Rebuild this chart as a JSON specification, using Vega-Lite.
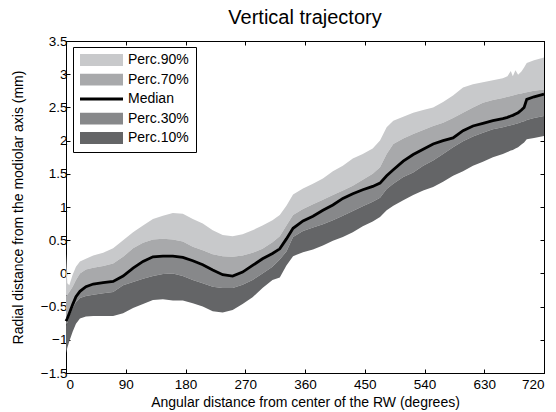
{
  "$schema": "https://vega.github.io/schema/vega-lite/v6.json",
  "width": 478,
  "height": 332,
  "autosize": {"type": "none"},
  "padding": {"left": 66, "top": 41, "right": 12, "bottom": 39},
  "background": "white",
  "config": {
    "view": {"stroke": "black", "strokeWidth": 1},
    "font": "Liberation Sans",
    "axis": {
      "domainColor": "black",
      "tickColor": "black",
      "labelColor": "black",
      "titleColor": "black",
      "labelFont": "Liberation Sans",
      "titleFont": "Liberation Sans",
      "labelFontSize": 13.5,
      "titleFontSize": 14,
      "titleFontWeight": "normal",
      "grid": false,
      "tickSize": -4,
      "domainWidth": 1,
      "tickWidth": 1
    }
  },
  "title": {
    "text": "Vertical trajectory",
    "font": "Liberation Sans",
    "fontSize": 20,
    "fontWeight": "normal",
    "color": "black",
    "anchor": "middle",
    "baseline": "alphabetic",
    "offset": 14,
    "dy": 24
  },
  "data": {
    "values": [
      {"a": 0, "p90": 0.30, "p70": -0.34, "med": -0.72, "p30": -0.79, "p10": -1.20},
      {"a": 2, "p90": -0.15, "p70": -0.32, "med": -0.68, "p30": -0.74, "p10": -1.12},
      {"a": 5, "p90": -0.18, "p70": -0.28, "med": -0.60, "p30": -0.64, "p10": -1.02},
      {"a": 10, "p90": -0.02, "p70": -0.20, "med": -0.47, "p30": -0.52, "p10": -0.88},
      {"a": 15, "p90": 0.10, "p70": -0.10, "med": -0.35, "p30": -0.43, "p10": -0.76},
      {"a": 21, "p90": 0.18, "p70": 0.00, "med": -0.27, "p30": -0.37, "p10": -0.68},
      {"a": 30, "p90": 0.22, "p70": 0.06, "med": -0.20, "p30": -0.34, "p10": -0.65},
      {"a": 41, "p90": 0.27, "p70": 0.085, "med": -0.16, "p30": -0.32, "p10": -0.64},
      {"a": 56, "p90": 0.31, "p70": 0.11, "med": -0.14, "p30": -0.30, "p10": -0.64},
      {"a": 71, "p90": 0.38, "p70": 0.15, "med": -0.12, "p30": -0.28, "p10": -0.64},
      {"a": 86, "p90": 0.50, "p70": 0.25, "med": -0.04, "p30": -0.18, "p10": -0.60},
      {"a": 101, "p90": 0.62, "p70": 0.38, "med": 0.08, "p30": -0.13, "p10": -0.52},
      {"a": 116, "p90": 0.72, "p70": 0.46, "med": 0.18, "p30": -0.08, "p10": -0.46},
      {"a": 131, "p90": 0.82, "p70": 0.51, "med": 0.25, "p30": -0.04, "p10": -0.40},
      {"a": 146, "p90": 0.87, "p70": 0.52, "med": 0.26, "p30": -0.01, "p10": -0.39},
      {"a": 161, "p90": 0.91, "p70": 0.51, "med": 0.26, "p30": 0.00, "p10": -0.41},
      {"a": 176, "p90": 0.90, "p70": 0.48, "med": 0.24, "p30": -0.04, "p10": -0.41},
      {"a": 191, "p90": 0.82, "p70": 0.40, "med": 0.19, "p30": -0.10, "p10": -0.45},
      {"a": 206, "p90": 0.75, "p70": 0.35, "med": 0.13, "p30": -0.15, "p10": -0.50},
      {"a": 221, "p90": 0.65, "p70": 0.29, "med": 0.05, "p30": -0.20, "p10": -0.57},
      {"a": 236, "p90": 0.58, "p70": 0.26, "med": -0.02, "p30": -0.22, "p10": -0.59},
      {"a": 251, "p90": 0.56, "p70": 0.25, "med": -0.04, "p30": -0.22, "p10": -0.55},
      {"a": 266, "p90": 0.59, "p70": 0.27, "med": 0.02, "p30": -0.17, "p10": -0.46},
      {"a": 281, "p90": 0.65, "p70": 0.31, "med": 0.12, "p30": -0.10, "p10": -0.36},
      {"a": 296, "p90": 0.72, "p70": 0.37, "med": 0.22, "p30": 0.00, "p10": -0.22},
      {"a": 311, "p90": 0.80, "p70": 0.47, "med": 0.30, "p30": 0.10, "p10": -0.10},
      {"a": 322, "p90": 0.88, "p70": 0.56, "med": 0.37, "p30": 0.21, "p10": -0.06},
      {"a": 332, "p90": 1.02, "p70": 0.72, "med": 0.52, "p30": 0.33, "p10": 0.12},
      {"a": 342, "p90": 1.19, "p70": 0.88, "med": 0.68, "p30": 0.55, "p10": 0.26},
      {"a": 357, "p90": 1.28, "p70": 0.97, "med": 0.79, "p30": 0.64, "p10": 0.32},
      {"a": 372, "p90": 1.35, "p70": 1.04, "med": 0.86, "p30": 0.69, "p10": 0.36},
      {"a": 387, "p90": 1.43, "p70": 1.11, "med": 0.95, "p30": 0.74, "p10": 0.42},
      {"a": 402, "p90": 1.54, "p70": 1.18, "med": 1.03, "p30": 0.80, "p10": 0.49},
      {"a": 417, "p90": 1.62, "p70": 1.25, "med": 1.13, "p30": 0.87, "p10": 0.55},
      {"a": 432, "p90": 1.73, "p70": 1.32, "med": 1.20, "p30": 0.94, "p10": 0.62},
      {"a": 447, "p90": 1.80, "p70": 1.41, "med": 1.26, "p30": 1.01, "p10": 0.71},
      {"a": 462, "p90": 1.88, "p70": 1.50, "med": 1.31, "p30": 1.08, "p10": 0.78},
      {"a": 473, "p90": 2.00, "p70": 1.60, "med": 1.36, "p30": 1.14, "p10": 0.85},
      {"a": 483, "p90": 2.20, "p70": 1.80, "med": 1.47, "p30": 1.27, "p10": 0.95},
      {"a": 493, "p90": 2.30, "p70": 1.95, "med": 1.56, "p30": 1.35, "p10": 1.02},
      {"a": 508, "p90": 2.36, "p70": 2.03, "med": 1.69, "p30": 1.45, "p10": 1.10},
      {"a": 523, "p90": 2.42, "p70": 2.10, "med": 1.79, "p30": 1.52, "p10": 1.18},
      {"a": 538, "p90": 2.46, "p70": 2.16, "med": 1.87, "p30": 1.62, "p10": 1.25},
      {"a": 553, "p90": 2.50, "p70": 2.22, "med": 1.95, "p30": 1.70, "p10": 1.30},
      {"a": 568, "p90": 2.58, "p70": 2.27, "med": 2.00, "p30": 1.80, "p10": 1.38},
      {"a": 583, "p90": 2.68, "p70": 2.34, "med": 2.04, "p30": 1.90, "p10": 1.47},
      {"a": 598, "p90": 2.80, "p70": 2.42, "med": 2.15, "p30": 1.99, "p10": 1.54},
      {"a": 613, "p90": 2.85, "p70": 2.50, "med": 2.22, "p30": 2.06, "p10": 1.62},
      {"a": 628, "p90": 2.88, "p70": 2.57, "med": 2.26, "p30": 2.12, "p10": 1.68},
      {"a": 643, "p90": 2.91, "p70": 2.61, "med": 2.30, "p30": 2.17, "p10": 1.75},
      {"a": 658, "p90": 2.94, "p70": 2.64, "med": 2.33, "p30": 2.20, "p10": 1.80},
      {"a": 665, "p90": 2.97, "p70": 2.66, "med": 2.35, "p30": 2.22, "p10": 1.83},
      {"a": 670, "p90": 3.05, "p70": 2.67, "med": 2.37, "p30": 2.23, "p10": 1.85},
      {"a": 673, "p90": 2.97, "p70": 2.68, "med": 2.38, "p30": 2.24, "p10": 1.86},
      {"a": 677, "p90": 3.06, "p70": 2.69, "med": 2.40, "p30": 2.25, "p10": 1.88},
      {"a": 681, "p90": 2.99, "p70": 2.70, "med": 2.42, "p30": 2.26, "p10": 1.90},
      {"a": 686, "p90": 3.04, "p70": 2.71, "med": 2.46, "p30": 2.28, "p10": 1.94},
      {"a": 690, "p90": 3.10, "p70": 2.72, "med": 2.50, "p30": 2.29, "p10": 1.97},
      {"a": 694, "p90": 3.17, "p70": 2.73, "med": 2.62, "p30": 2.31, "p10": 2.02},
      {"a": 705, "p90": 3.21, "p70": 2.75, "med": 2.66, "p30": 2.34, "p10": 2.04},
      {"a": 720, "p90": 3.25, "p70": 2.77, "med": 2.70, "p30": 2.37, "p10": 2.07}
    ]
  },
  "resolve": {"axis": {"x": "independent", "y": "independent"}},
  "layer": [
    {
      "mark": {"type": "area", "opacity": 1},
      "encoding": {
        "x": {
          "field": "a", "type": "quantitative",
          "scale": {"domain": [0, 720], "nice": false, "zero": false},
          "axis": {
            "orient": "bottom",
            "values": [0, 90, 180, 270, 360, 450, 540, 630, 720],
            "title": "Angular distance from center of the RW (degrees)",
            "labelPadding": 8,
            "titlePadding": 5
          }
        },
        "y": {
          "field": "p90", "type": "quantitative",
          "scale": {"domain": [-1.5, 3.5], "nice": false, "zero": false},
          "axis": {
            "orient": "left",
            "values": [-1.5, -1, -0.5, 0, 0.5, 1, 1.5, 2, 2.5, 3, 3.5],
            "format": "~g",
            "title": "Radial distance from the modiolar axis (mm)",
            "labelPadding": 3,
            "titlePadding": 15
          }
        },
        "y2": {"field": "p70"},
        "color": {
          "datum": "Perc.90%",
          "type": "nominal",
          "scale": {
            "domain": ["Perc.90%", "Perc.70%", "Median", "Perc.30%", "Perc.10%"],
            "range": ["#c8c9cb", "#a8a9ab", "#000000", "#87888a", "#646567"]
          },
          "legend": {
            "orient": "none",
            "legendX": 7,
            "legendY": 6,
            "title": null,
            "direction": "vertical",
            "strokeColor": "black",
            "fillColor": "white",
            "padding": 7,
            "labelFont": "Liberation Sans",
            "labelFontSize": 14,
            "labelColor": "black",
            "labelOffset": 5,
            "symbolSize": 1849,
            "symbolType": "M-1,-0.28H1V0.28H-1Z",
            "symbolStrokeWidth": 0,
            "symbolOpacity": 1,
            "clipHeight": 12,
            "rowPadding": 5.5,
            "encode": {
              "symbols": {
                "update": {
                  "shape": {"signal": "datum.value === 'Median' ? 'M-1,-0.07H1V0.07H-1Z' : 'M-1,-0.28H1V0.28H-1Z'"},
                  "fill": {"scale": "color", "field": "value"},
                  "stroke": {"value": "transparent"}
                }
              }
            }
          }
        }
      }
    },
    {
      "mark": {"type": "area", "opacity": 1},
      "encoding": {
        "x": {"field": "a", "type": "quantitative", "axis": null},
        "y": {"field": "p70", "type": "quantitative", "axis": null},
        "y2": {"field": "med"},
        "color": {"datum": "Perc.70%", "type": "nominal"}
      }
    },
    {
      "mark": {"type": "area", "opacity": 1},
      "encoding": {
        "x": {"field": "a", "type": "quantitative", "axis": null},
        "y": {"field": "med", "type": "quantitative", "axis": null},
        "y2": {"field": "p30"},
        "color": {"datum": "Perc.30%", "type": "nominal"}
      }
    },
    {
      "mark": {"type": "area", "opacity": 1},
      "encoding": {
        "x": {"field": "a", "type": "quantitative", "axis": null},
        "y": {"field": "p30", "type": "quantitative", "axis": null},
        "y2": {"field": "p10"},
        "color": {"datum": "Perc.10%", "type": "nominal"}
      }
    },
    {
      "mark": {"type": "line", "color": "black", "strokeWidth": 2.8},
      "encoding": {
        "x": {"field": "a", "type": "quantitative", "axis": null},
        "y": {"field": "med", "type": "quantitative", "axis": null}
      }
    },
    {
      "mark": {"type": "point", "opacity": 0},
      "encoding": {
        "x": {
          "field": "a", "type": "quantitative",
          "axis": {"orient": "top", "values": [0, 90, 180, 270, 360, 450, 540, 630, 720], "labels": false, "title": null}
        },
        "y": {
          "field": "med", "type": "quantitative",
          "axis": {"orient": "right", "values": [-1.5, -1, -0.5, 0, 0.5, 1, 1.5, 2, 2.5, 3, 3.5], "labels": false, "title": null}
        }
      }
    }
  ]
}
